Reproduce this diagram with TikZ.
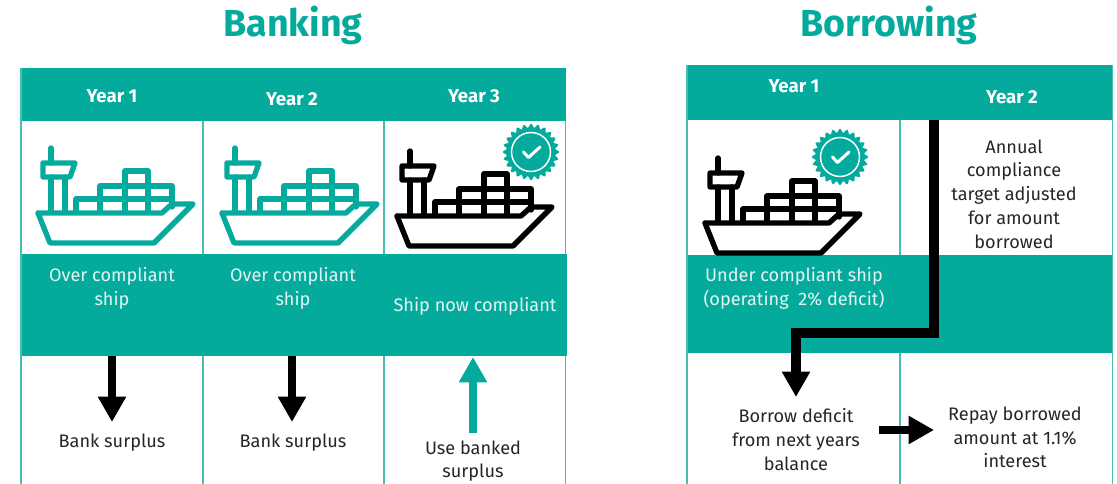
\documentclass[tikz,border=0pt]{standalone}
\usepackage{fontspec}
\setmainfont{Fira Sans}
\usetikzlibrary{arrows.meta}
\definecolor{tealc}{RGB}{4,171,157}
\definecolor{gridc}{RGB}{70,190,177}
\definecolor{bandtext}{RGB}{225,245,242}
\tikzset{
  shipline/.style={line width=4pt,line join=round,line cap=round},
  ship/.pic={
    \draw[shipline] (38,213) -- (50,243) -- (154,243) -- (193,204) -- (172,204);
    \draw[shipline] (38,213) -- (162,213) -- (172,204);
    \draw[shipline] (51,148) -- (51,163);
    \draw[shipline] (43,163) -- (75,163) -- (70,177) -- (43,177) -- cycle;
    \draw[shipline] (51,177) -- (51,212) (65,177) -- (65,212);
    \draw[shipline] (76,212) -- (76,199) -- (172,199) -- (172,207);
    \draw[shipline] (100,212) -- (100,186) -- (172,186) -- (172,199);
    \draw[shipline] (125,212) -- (125,171) -- (148,171) -- (148,212);
    \draw[shipline] (125,186) -- (148,186);
  },
  seal/.pic={
    \fill[tealc] plot[domain=0:360,samples=193,smooth] ({(26.3+1.9*cos(24*\x))*cos(\x)},{(26.3+1.9*cos(24*\x))*sin(\x)}) -- cycle;
    \draw[white,line width=1.1pt] (0,0) circle (19.5);
    \draw[white,line width=2.3pt,line cap=round,line join=round] (-7.5,0) -- (-2.5,5.5) -- (9,-5);
  },
  gridline/.style={draw=gridc,line width=1.3pt},
  band/.style={fill=tealc},
  title/.style={text=tealc,font=\fontsize{28.2}{30}\selectfont\bfseries,inner sep=0pt},
  head/.style={text=white,font=\fontsize{14}{15}\selectfont\bfseries,inner sep=0pt},
  bodytext/.style={text=black!85,font=\fontsize{13.6}{17.8}\selectfont,align=center,inner sep=0pt},
  bandlabel/.style={text=bandtext,font=\fontsize{13.6}{17.8}\selectfont,align=center,inner sep=0pt},
  bigarrow/.style={draw=black,line width=6.4pt,-{Triangle[length=19pt,width=20pt]}},
  tealarrow/.style={draw=tealc,line width=6pt,-{Triangle[length=19pt,width=20pt]}},
  elbow/.style={draw=black,line width=6.8pt,line join=miter,-{Triangle[length=19pt,width=20pt]}}
}
\begin{document}
\begin{tikzpicture}[x=0.75pt,y=-0.75pt]
\useasboundingbox (0,0) rectangle (1117,484);
% Banking grid
\fill[band] (21,68) rectangle (566,121);
\fill[band] (21,254) rectangle (567,356);
\draw[gridline] (21,68) -- (21,484) (203,121) -- (203,254) (203,356) -- (203,484)
  (384,121) -- (384,254) (384,356) -- (384,484) (565.5,121) -- (565.5,254) (565.5,356) -- (565.5,484);
% Borrowing grid
\fill[band] (687,65) rectangle (1113,120);
\fill[band] (687,255) rectangle (1113,353);
\draw[gridline] (687,65) -- (687,484) (900,120) -- (900,255) (900,353) -- (900,484)
  (1112.5,65) -- (1112.5,484);
% Titles
\node[title] (tBank) at (293,25.5) {Banking};
\node[title] (tBorrow) at (889,25.5) {Borrowing};
% Headers
\node[head] (h1) at (112,96) {Year 1};
\node[head] (h2) at (292,99) {Year 2};
\node[head] (h3) at (474,96) {Year 3};
\node[head] (h4) at (794,86) {Year 1};
\node[head] (h5) at (1012,97) {Year 2};
% Ships
\pic[color=tealc] at (0,0) {ship};
\pic[color=tealc] at (184,0) {ship};
\pic[color=black] at (359,3) {ship};
\pic[color=black] at (667,10) {ship};
\pic at (531,152) {seal};
\pic at (840,157) {seal};
% Band labels
\node[bandlabel] (b1) at (112,288) {Over compliant\\ship};
\node[bandlabel] (b2) at (293,288) {Over compliant\\ship};
\node[bandlabel] (b3) at (475,306) {Ship now compliant};
\node[bandlabel] (b4) at (794,288.5) {Under compliant ship\\(operating\ \ 2\% deficit)};
% Body text
\node[bodytext] (l1) at (112,443) {Bank surplus};
\node[bodytext] (l2) at (293,443) {Bank surplus};
\node[bodytext] (l3) at (473,461) {Use banked\\surplus};
\node[bodytext] (l4) at (796,439.5) {Borrow deficit\\from next years\\balance};
\node[bodytext] (l5) at (1015,437.5) {Repay borrowed\\amount at 1.1\%\\interest};
\node[bodytext] (l6) at (1014,194) {Annual\\compliance\\target adjusted\\for amount\\borrowed};
% Connector ends
\coordinate (a1s) at (112,356);
\coordinate (a1e) at (112,422);
\coordinate (a2s) at (292,356);
\coordinate (a2e) at (292,422);
\coordinate (a3s) at (473,433);
\coordinate (a3e) at (473,357);
\coordinate (a4s) at (934,120);
\coordinate (a4m) at (934,333);
\coordinate (a4n) at (796,333);
\coordinate (a4e) at (796,397);
\coordinate (a5s) at (879,430);
\coordinate (a5e) at (934,430);
\draw[bigarrow] (a1s) -- (a1e);
\draw[bigarrow] (a2s) -- (a2e);
\draw[tealarrow] (a3s) -- (a3e);
\draw[elbow] (a4s) -- (a4m) -- (a4n) -- (a4e);
\draw[bigarrow] (a5s) -- (a5e);
\end{tikzpicture}
\end{document}
